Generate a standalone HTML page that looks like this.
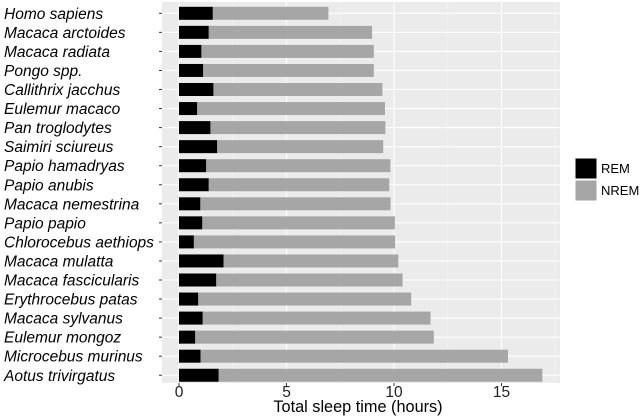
<!DOCTYPE html>
<html><head><meta charset="utf-8"><style>
body{margin:0;background:#fff;}
svg{display:block;font-family:"Liberation Sans",Arial,sans-serif;}
</style></head><body>
<svg id="chart" width="640" height="418"></svg>
<script>
const species=["Homo sapiens","Macaca arctoides","Macaca radiata","Pongo spp.","Callithrix jacchus","Eulemur macaco","Pan troglodytes","Saimiri sciureus","Papio hamadryas","Papio anubis","Macaca nemestrina","Papio papio","Chlorocebus aethiops","Macaca mulatta","Macaca fascicularis","Erythrocebus patas","Macaca sylvanus","Eulemur mongoz","Microcebus murinus","Aotus trivirgatus"];
const remHours=[1.57,1.38,1.04,1.12,1.6,0.84,1.46,1.77,1.26,1.38,0.99,1.08,0.69,2.07,1.73,0.89,1.1,0.75,1.0,1.84];
const totalHours=[6.95,8.98,9.06,9.06,9.46,9.58,9.6,9.5,9.83,9.78,9.84,10.04,10.05,10.2,10.4,10.8,11.7,11.85,15.3,16.9];
const xTicks=[0,5,10,15];
const NS="http://www.w3.org/2000/svg";
const svg=document.getElementById('chart');
function mk(t,a,p){const e=document.createElementNS(NS,t);for(const k in a)e.setAttribute(k,a[k]);(p||svg).appendChild(e);return e;}
const pL=162,pR=560,pT=2,pB=383;
const x=v=>179+v*21.5;
const y=i=>13.3+i*19.05;
const bh=13;
const panel=mk('rect',{x:pL,y:pT,width:pR-pL,height:pB-pT,fill:'#ebebeb'});


for(let v=2.5;x(v)<pR;v+=5){mk('line',{x1:x(v),x2:x(v),y1:pT,y2:pB,stroke:'#f5f5f5','stroke-width':0.6});}
xTicks.forEach(v=>{mk('line',{x1:x(v),x2:x(v),y1:pT,y2:pB,stroke:'#fff','stroke-width':1.1});});
species.forEach((s,i)=>{mk('line',{x1:pL,x2:pR,y1:y(i),y2:y(i),stroke:'#fff','stroke-width':1.1});});
species.forEach((s,i)=>{
  const n=mk('rect',{x:x(remHours[i]),y:y(i)-bh/2,width:x(totalHours[i])-x(remHours[i]),height:bh,fill:'#a6a6a6'});
  
  
  const r=mk('rect',{x:x(0),y:y(i)-bh/2,width:x(remHours[i])-x(0),height:bh,fill:'#000'});
  
  
  mk('line',{x1:pL-3,x2:pL,y1:y(i),y2:y(i),stroke:'#333','stroke-width':1});
  const t=mk('text',{x:4,y:y(i)+5.5,'font-size':'15.5','font-style':'italic',fill:'#000'});
  t.textContent=s;
  
  
});
xTicks.forEach(v=>{
  mk('line',{x1:x(v),x2:x(v),y1:pB,y2:pB+3,stroke:'#333','stroke-width':1});
  const t=mk('text',{x:x(v),y:397,'font-size':'15.5','text-anchor':'middle',fill:'#222'});
  t.textContent=v;
  
  
});
const xt=mk('text',{x:358,y:412,'font-size':'16.3','text-anchor':'middle',fill:'#000'});
xt.textContent='Total sleep time (hours)';


[['REM','#000',158],['NREM','#a6a6a6',180]].forEach(([l,c,yy])=>{
  const g=mk('g',{});
  
  
  mk('rect',{x:575,y:yy,width:22,height:21,fill:c,stroke:'#fff'},g);
  const t=mk('text',{x:601,y:yy+15,'font-size':'13',fill:'#000'},g);
  t.textContent=l;
});
</script>
</body></html>
